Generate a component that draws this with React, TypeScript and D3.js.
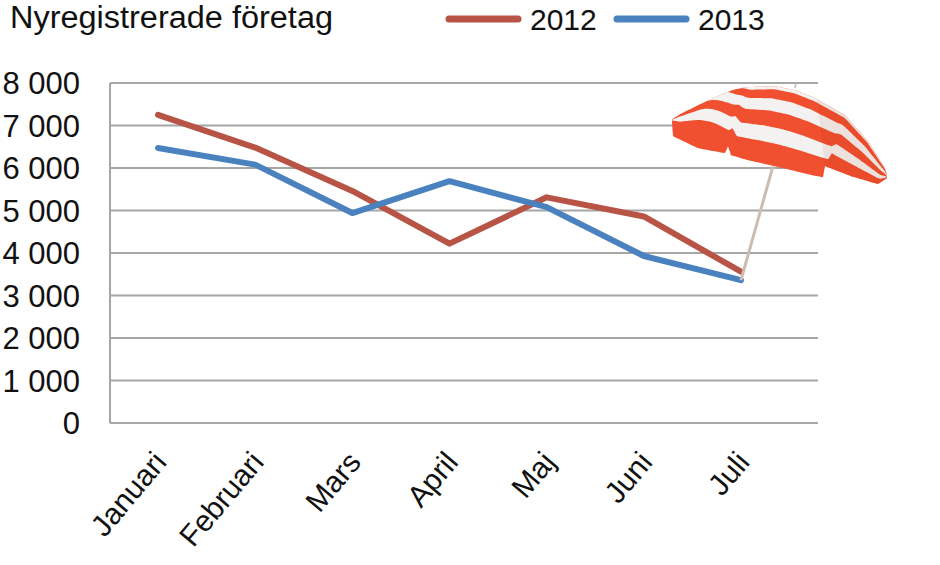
import React from "react";
import * as d3 from "d3";

const months = ["Januari", "Februari", "Mars", "April", "Maj", "Juni", "Juli"];
const values2012 = [7250, 6480, 5460, 4220, 5310, 4860, 3560];
const values2013 = [6470, 6080, 4940, 5690, 5080, 3930, 3360];
const yTicks = [0, 1000, 2000, 3000, 4000, 5000, 6000, 7000, 8000];
const seriesNames = ["2012", "2013"];
const seriesColors = ["#B85446", "#4A82C0"];

const W = 940;
const H = 565;
const FONT = "'Liberation Sans', Arial, Helvetica, sans-serif";

function samplePolyline(pts: number[][], n: number): number[][] {
  const segs: number[] = [];
  let total = 0;
  for (let i = 1; i < pts.length; i++) {
    const l = Math.hypot(pts[i][0] - pts[i - 1][0], pts[i][1] - pts[i - 1][1]);
    segs.push(l);
    total += l;
  }
  const out: number[][] = [];
  for (let k = 0; k < n; k++) {
    let d = (total * k) / (n - 1);
    let i = 0;
    while (i < segs.length - 1 && d > segs[i]) {
      d -= segs[i];
      i++;
    }
    const f = segs[i] === 0 ? 0 : Math.min(1, d / segs[i]);
    out.push([
      pts[i][0] + (pts[i + 1][0] - pts[i][0]) * f,
      pts[i][1] + (pts[i + 1][1] - pts[i][1]) * f,
    ]);
  }
  return out;
}

function Umbrella({ px, py }: { px: number; py: number }) {
  // decorative shape, defined relative to the pole foot (px, py)
  const rel = (p: number[]) => [p[0] + px, p[1] + py];
  const top = [
    [-69, -161], [-61, -166], [-43, -175], [-26, -183], [-9, -190], [4, -193], [34, -194], [54, -190],
    [74, -182], [104, -165], [127, -139], [144, -112], [146, -105],
  ].map(rel);
  const bottom = [
    [-69, -158], [-68, -144], [-43, -132], [-16, -127], [-13, -134], [-10, -125],
    [7, -120], [34, -114], [71, -105], [82, -103], [84, -114], [110, -104], [137, -96], [146, -102],
  ].map(rel);
  const N = 160;
  const T = samplePolyline(top, N);
  const B = samplePolyline(bottom, N);
  const at = (i: number, t: number) => [B[i][0] + (T[i][0] - B[i][0]) * t, B[i][1] + (T[i][1] - B[i][1]) * t];
  // white stripe boundaries: left panel vs. main panels, blended across the seam
  const leftBands = [
    [0.6, 0.85],
    [1.02, 1.2],
    [1.3, 1.4],
  ];
  const mainBands = [
    [0.28, 0.48],
    [0.68, 0.84],
    [0.96, 1.05],
  ];
  const blend = (i: number) => {
    const s = i / (N - 1);
    const u = Math.max(0, Math.min(1, (s - 0.12) / 0.22));
    return u * u * (3 - 2 * u);
  };
  const line = d3.line();
  const outline = line([...B, ...T.slice().reverse()]) + "Z";
  const rightPanel =
    line([rel([72, -200]), rel([76, -182]), rel([84, -114]), rel([82, -100]), rel([150, -90]), rel([150, -200])]) + "Z";
  return (
    <g>
      <defs>
        <clipPath id="canopyClip">
          <path d={outline} />
        </clipPath>
      </defs>
      <line x1={px + 32} y1={py - 114} x2={px} y2={py} stroke="#CDBDAE" strokeWidth={3} />
      <path d={outline} fill="#F0502F" />
      <g clipPath="url(#canopyClip)">
        {mainBands.map((mb, k) => {
          const lo: number[][] = [];
          const hi: number[][] = [];
          for (let i = 0; i < N; i++) {
            const w = blend(i);
            const a = leftBands[k][0] + (mb[0] - leftBands[k][0]) * w;
            const b = leftBands[k][1] + (mb[1] - leftBands[k][1]) * w;
            lo.push(at(i, a));
            hi.push(at(i, b));
          }
          return <path key={k} d={line([...lo, ...hi.reverse()]) + "Z"} fill="#F4F2F0" />;
        })}
        <path d={rightPanel} fill="#9a1a00" opacity={0.08} />
      </g>
      <line x1={px + 54} y1={py - 192} x2={px + 55} y2={py - 197} stroke="#bbb" strokeWidth={1.5} />
    </g>
  );
}

export default function App() {
  const x = d3.scalePoint<string>().domain(months).range([158, 741]);
  const y = d3.scaleLinear().domain([0, 8000]).range([423, 83]);
  const plotLeft = 110;
  const plotRight = 818;
  const fmt = (v: number) => d3.format(",")(v).replace(/,/g, " ");
  const line = d3
    .line<number>()
    .x((_, i) => x(months[i])!)
    .y((d) => y(d));
  const series = [values2012, values2013];

  return (
    <svg
      width={W}
      height={H}
      viewBox={`0 0 ${W} ${H}`}
      style={{ position: "absolute", left: 0, top: 0, background: "#fff" }}
      fontFamily={FONT}
    >
      <rect width={W} height={H} fill="#fff" />
      <text x={10} y={28} fontSize={31} fill="#111" textLength={323} lengthAdjust="spacingAndGlyphs">
        Nyregistrerade företag
      </text>

      {seriesNames.map((name, i) => {
        const lx = 449 + i * 168;
        return (
          <g key={name}>
            <line x1={lx} y1={19} x2={lx + 69} y2={19} stroke={seriesColors[i]} strokeWidth={7} strokeLinecap="round" />
            <text x={lx + 81} y={30} fontSize={30} fill="#111">
              {name}
            </text>
          </g>
        );
      })}

      {yTicks.map((t) => (
        <g key={t}>
          <line x1={plotLeft} x2={plotRight} y1={y(t)} y2={y(t)} stroke="#A6A6A6" strokeWidth={2} />
          <text x={80} y={y(t)} dy="0.36em" textAnchor="end" fontSize={31} fill="#111">
            {fmt(t)}
          </text>
        </g>
      ))}
      <line x1={plotLeft} x2={plotLeft} y1={y(8000)} y2={y(0)} stroke="#A6A6A6" strokeWidth={2} />

      {months.map((m) => (
        <text
          key={m}
          transform={`translate(${x(m)! + 10},${y(0) + 40}) rotate(-50)`}
          textAnchor="end"
          fontSize={30}
          fill="#111"
        >
          {m}
        </text>
      ))}

      {series.map((s, i) => (
        <path
          key={i}
          d={line(s)!}
          fill="none"
          stroke={seriesColors[i]}
          strokeWidth={6}
          strokeLinejoin="round"
          strokeLinecap="round"
        />
      ))}

      <Umbrella px={x("Juli")!} py={y(values2013[6])} />
    </svg>
  );
}
